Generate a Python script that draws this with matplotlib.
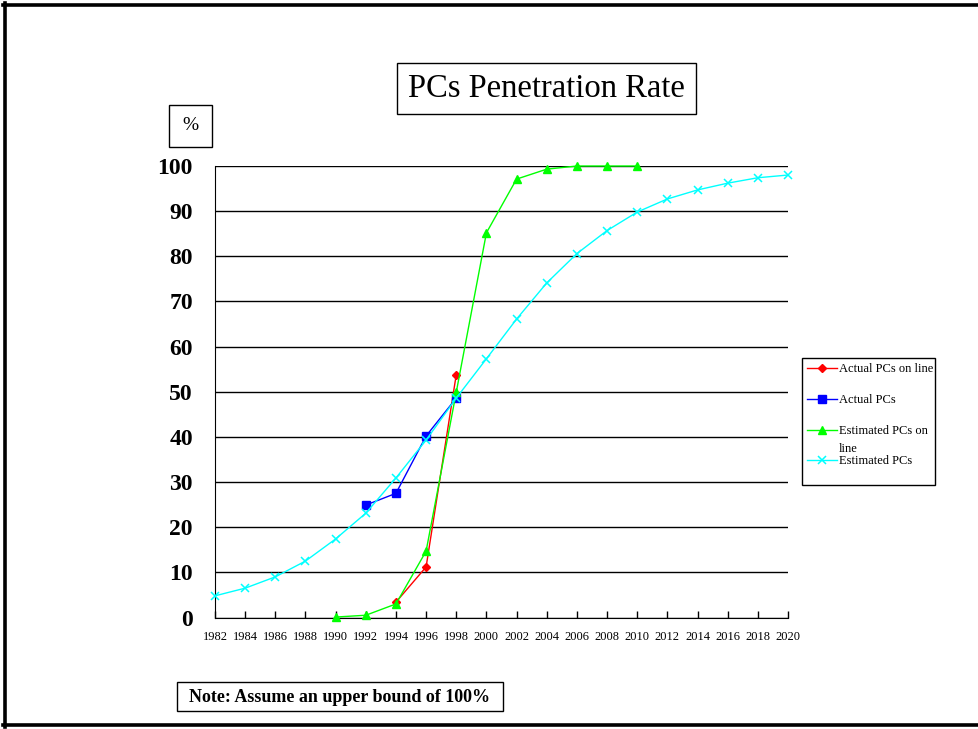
import matplotlib
matplotlib.use('Agg')
import matplotlib.pyplot as plt
from matplotlib.patches import Rectangle
from matplotlib.lines import Line2D

# values (percent)
years_est = list(range(1982, 2021, 2))
est_pcs = [4.8, 6.5, 9.0, 12.5, 17.4, 23.1, 30.9, 39.3, 48.6, 57.3,
           66.1, 74.1, 80.6, 85.7, 89.8, 92.7, 94.7, 96.2, 97.4, 98.0]
years_est_online = list(range(1990, 2011, 2))
est_online = [0.1, 0.5, 3.0, 14.7, 49.9, 85.2, 97.1, 99.3, 100, 100, 100]
years_act_online = [1994, 1996, 1998]
act_online = [3.4, 11.2, 53.8]
years_act = [1992, 1994, 1996, 1998]
act_pcs = [24.9, 27.5, 40.2, 48.6]

labels = ['Actual PCs on line', 'Actual PCs', 'Estimated PCs on\nline', 'Estimated PCs']

plt.rcParams['font.family'] = ['Liberation Serif', 'DejaVu Serif']

W, H = 979, 729
fig = plt.figure(figsize=(W / 100, H / 100), dpi=100)

def fx(x):
    return x / W

def fy(y):
    return 1 - y / H

ax = fig.add_axes([fx(215), fy(617.5), (788 - 215) / W, (617.5 - 166) / H])

colors = ['#FF0000', '#0000FF', '#00FF00', '#00FFFF']
markers = [dict(marker='D', ms=4.5), dict(marker='s', ms=6),
           dict(marker='^', ms=6), dict(marker='x', ms=6, mew=1.1)]
series = [(years_act_online, act_online), (years_act, act_pcs),
          (years_est_online, est_online), (years_est, est_pcs)]

for (xs, ys), c, mk in zip(series, colors, markers):
    ax.plot(xs, ys, color=c, lw=1.0, clip_on=False, zorder=3, **mk)

ax.set_xlim(1982, 2020)
ax.set_ylim(0, 100)
ax.set_xticks(range(1982, 2021, 2))
ax.set_yticks(range(0, 101, 10))
ax.tick_params(axis='x', direction='in', length=5, width=1, labelsize=9, pad=10)
ax.tick_params(axis='y', length=0, pad=16, labelsize=17)
for lab in ax.get_yticklabels():
    lab.set_fontweight('bold')
ax.grid(axis='y', color='black', lw=1)
ax.set_axisbelow(True)
ax.spines['top'].set_visible(False)
ax.spines['right'].set_visible(False)

# boxes: legend, title, % label, note
def box(x0, y0, x1, y1):
    fig.add_artist(Rectangle((fx(x0), fy(y1)), (x1 - x0) / W, (y1 - y0) / H,
                             transform=fig.transFigure, fill=False,
                             ec='black', lw=1))

# legend drawn by hand to copy the spreadsheet layout
box(802, 358, 935, 485)
leg_y = [368, 399, 430, 460]
for yy, lab, c, mk in zip(leg_y, labels, colors, markers):
    fig.add_artist(Line2D([fx(807), fx(837)], [fy(yy), fy(yy)],
                          transform=fig.transFigure, lw=1.0, color=c))
    fig.add_artist(Line2D([fx(822)], [fy(yy)], transform=fig.transFigure,
                          lw=0, color=c, **mk))
    for k, part in enumerate(lab.split('\n')):
        fig.text(fx(839), fy(yy + 1 + 18 * k), part, fontsize=9,
                 ha='left', va='center')

box(397, 63, 696, 114)
fig.text(fx(546.5), fy(89), 'PCs Penetration Rate', fontsize=23.5,
         ha='center', va='center')
box(169, 105, 212, 147)
fig.text(fx(190.5), fy(126), '%', fontsize=14, ha='center', va='center')
box(177, 682, 503, 711)
fig.text(fx(340), fy(697), 'Note: Assume an upper bound of 100%', fontsize=13,
         fontweight='bold', ha='center', va='center')

# outer frame (left, top, bottom)
for xs, ys in [([5, 5], [3, 727]), ([3, W], [5, 5]), ([3, W], [724.5, 724.5])]:
    fig.add_artist(Line2D([fx(v) for v in xs], [fy(v) for v in ys],
                          transform=fig.transFigure, color='black', lw=2.6))

fig.savefig('out.png', dpi=100)
